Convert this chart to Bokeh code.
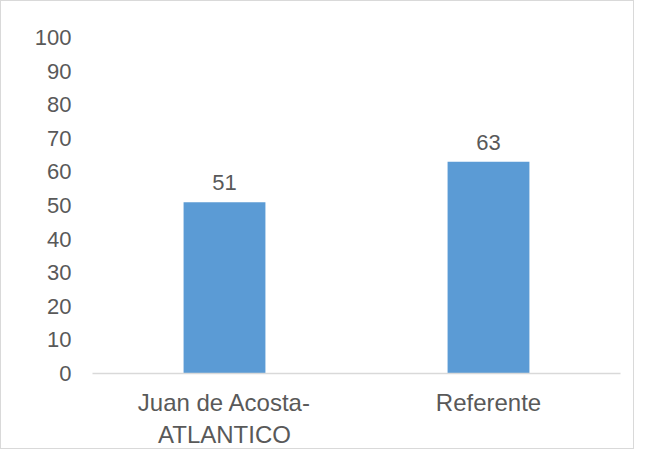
from bokeh.plotting import figure
from bokeh.models import ColumnDataSource, Range1d, LabelSet, SingleIntervalTicker
from bokeh.core.properties import value
from bokeh.embed import file_html
from bokeh.resources import INLINE

categories = ["Juan de Acosta-\nATLANTICO", "Referente"]
values = [51, 63]
value_labels = ["51", "63"]

FONT = "Liberation Sans"
TEXT = "#595959"

src = ColumnDataSource(dict(cat=categories, val=values, lab=value_labels))

p = figure(x_range=categories, y_range=Range1d(0, 100), width=634, height=449,
           output_backend="svg", toolbar_location=None,
           min_border_left=91, min_border_right=15, min_border_top=36, min_border_bottom=66)
p.styles = {"border": "1px solid #d9d9d9"}
p.outline_line_color = None
p.xgrid.grid_line_color = None
p.ygrid.grid_line_color = None

p.vbar(x="cat", top="val", width=0.31, source=src, fill_color="#5B9BD5", line_color=None)

labels = LabelSet(x="cat", y="val", text="lab", source=src, text_align="center",
                  text_baseline="bottom", y_offset=12, text_color=TEXT,
                  text_font=value(FONT), text_font_size="22px")
p.add_layout(labels)

p.yaxis.ticker = SingleIntervalTicker(interval=10)
p.yaxis.axis_line_color = None
p.yaxis.major_tick_line_color = None
p.yaxis.minor_tick_line_color = None
p.yaxis.major_label_standoff = 15
p.yaxis.major_label_text_font = FONT
p.yaxis.major_label_text_font_size = "22px"
p.yaxis.major_label_text_color = TEXT

p.xaxis.axis_line_color = "#d9d9d9"
p.xaxis.axis_line_width = 1.5
p.xaxis.major_tick_line_color = None
p.xaxis.minor_tick_line_color = None
p.xaxis.major_label_standoff = 9
p.xaxis.major_label_text_font = FONT
p.xaxis.major_label_text_font_size = "24px"
p.xaxis.major_label_text_color = TEXT
p.x_range.range_padding = 0

open("out.html", "w").write(file_html(p, INLINE))
